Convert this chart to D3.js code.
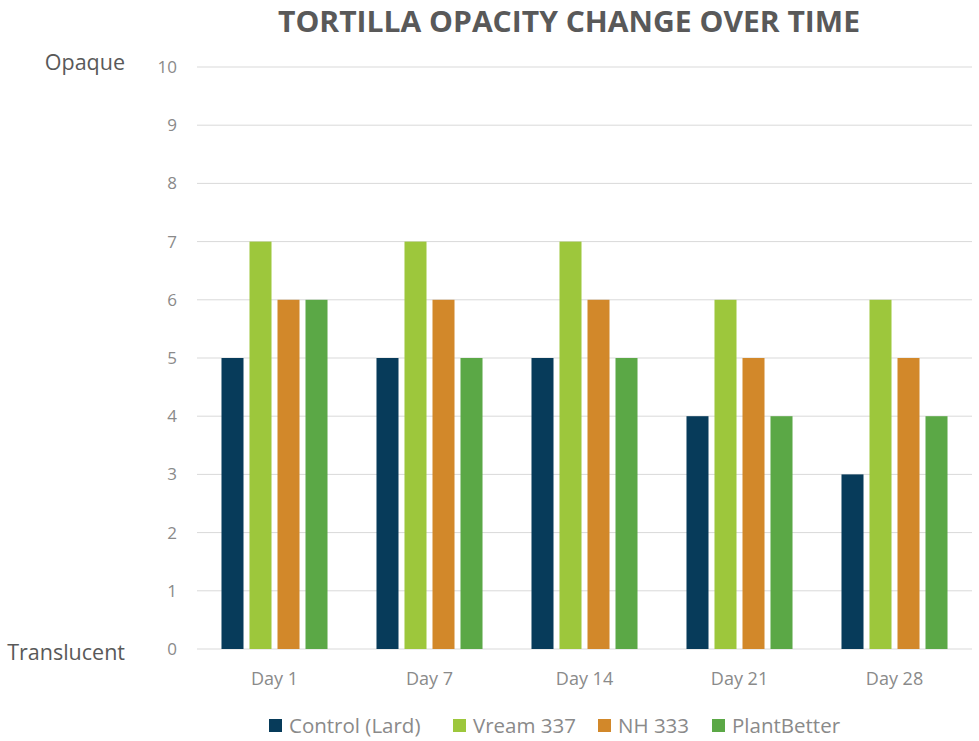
<!DOCTYPE html>
<html><head><meta charset="utf-8">
<script src="https://cdn.jsdelivr.net/npm/d3@7"></script>
<style>body{margin:0;background:#fff}svg{display:block}</style>
</head><body><svg id="c" width="979" height="741"></svg>
<script>
const categories = ["Day 1","Day 7","Day 14","Day 21","Day 28"];
const seriesNames = ["Control (Lard)","Vream 337","NH 333","PlantBetter"];
const controlLard = [5,5,5,4,3];
const vream337 = [7,7,7,6,6];
const nh333 = [6,6,6,5,5];
const plantBetter = [6,5,5,4,4];
const yTicks = [0,1,2,3,4,5,6,7,8,9,10];
const colors = ["#073B5A","#9DC73C","#D2882A","#5BA846"];
const seriesValues = [controlLard, vream337, nh333, plantBetter];

const svg = d3.select("#c");
const font = "'Open Sans', 'Noto Sans', sans-serif";
const plotLeft = 197, plotRight = 972, plotTop = 67, plotBottom = 649;

const x0 = d3.scaleBand().domain(categories).range([plotLeft, plotRight]).paddingInner(0.316).paddingOuter(0.158);
const x1 = d3.scaleBand().domain(seriesNames).range([0, x0.bandwidth()]).paddingInner(0.214);
const y = d3.scaleLinear().domain([0,10]).range([plotBottom, plotTop]);

// gridlines
svg.append("g").selectAll("line").data(yTicks).join("line")
  .attr("x1", plotLeft).attr("x2", plotRight)
  .attr("y1", d => y(d)).attr("y2", d => y(d))
  .attr("stroke", "#d9d9d9").attr("stroke-width", 1);

// y tick labels
svg.append("g").selectAll("text").data(yTicks).join("text")
  .attr("x", 177).attr("y", d => y(d)).attr("dy", "0.35em")
  .attr("text-anchor", "end").attr("font-family", font).attr("font-size", 17)
  .attr("fill", "#8a8a8a").text(d => d);

// bars
const groups = svg.append("g").selectAll("g").data(categories).join("g")
  .attr("transform", d => `translate(${x0(d)},0)`);
groups.selectAll("rect").data((d, i) => seriesNames.map((s, j) => ({s, v: seriesValues[j][i], j})))
  .join("rect")
  .attr("x", d => x1(d.s)).attr("width", x1.bandwidth())
  .attr("y", d => y(d.v)).attr("height", d => y(0) - y(d.v))
  .attr("fill", d => colors[d.j]);

// x labels
svg.append("g").selectAll("text").data(categories).join("text")
  .attr("x", d => x0(d) + x0.bandwidth()/2).attr("y", 685)
  .attr("text-anchor", "middle").attr("font-family", font).attr("font-size", 18)
  .attr("fill", "#8a8a8a").text(d => d);

// title
svg.append("text").attr("x", 569).attr("y", 32).attr("text-anchor", "middle")
  .attr("font-family", font).attr("font-weight", "bold").attr("font-size", 28)
  .attr("fill", "#595959").attr("textLength", 582).attr("lengthAdjust", "spacingAndGlyphs")
  .text("TORTILLA OPACITY CHANGE OVER TIME");

// side labels
svg.append("text").attr("x", 125).attr("y", 70).attr("text-anchor", "end")
  .attr("font-family", font).attr("font-size", 21.5).attr("fill", "#595959").text("Opaque");
svg.append("text").attr("x", 125).attr("y", 660).attr("text-anchor", "end")
  .attr("font-family", font).attr("font-size", 21.5).attr("fill", "#595959").text("Translucent");

// legend
const legendX = [269, 453, 598, 712];
const lg = svg.append("g").selectAll("g").data(seriesNames).join("g")
  .attr("transform", (d, i) => `translate(${legendX[i]},719)`);
lg.append("rect").attr("width", 13).attr("height", 13).attr("fill", (d, i) => colors[i]);
lg.append("text").attr("x", 20).attr("y", 7).attr("dy", "0.35em")
  .attr("font-family", font).attr("font-size", 20.5).attr("fill", "#8a8a8a").text(d => d);
</script></body></html>
